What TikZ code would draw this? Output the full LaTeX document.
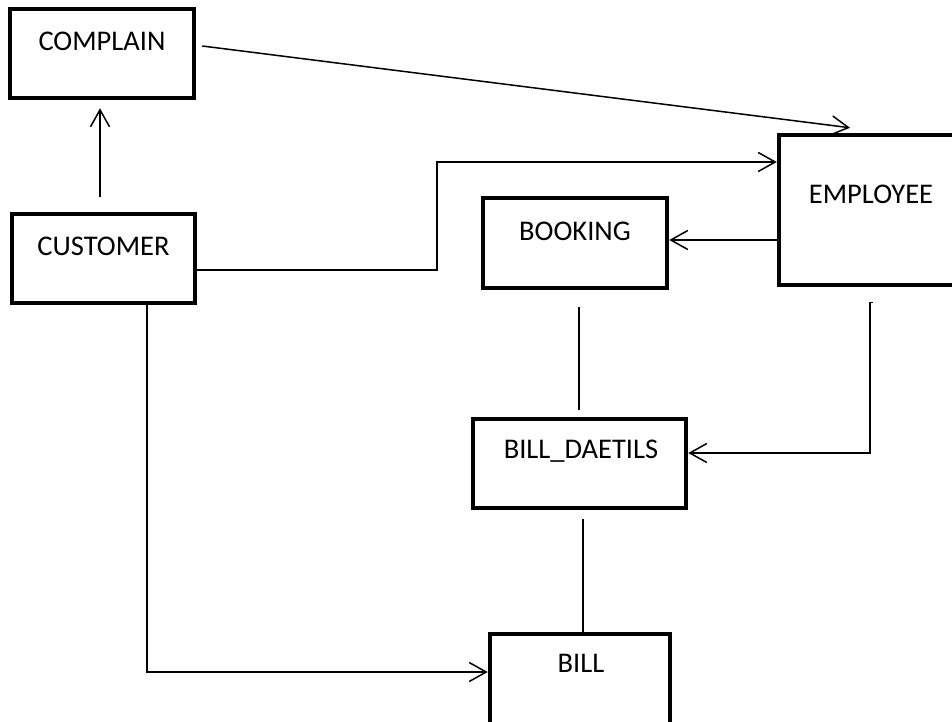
\documentclass[tikz,border=0pt]{standalone}
\usepackage{fontspec}
\setmainfont{Carlito}
\usetikzlibrary{arrows.meta,calc}

\tikzset{
  entity/.style={draw, line width=4.5pt, rectangle, inner sep=0pt},
  caption/.style={anchor=base, inner sep=0pt, font=\fontsize{28.5}{34}\selectfont},
  conn/.style={line width=1.5pt},
  arr/.style={conn, -{Straight Barb[length=17pt,width=19pt,line width=1.5pt]}}
}

\begin{document}
\begin{tikzpicture}[x=1pt,y=-1pt]
  \useasboundingbox (0,0) rectangle (952,722);
  \fill[white] (0,0) rectangle (952,722);
  \clip (0,0) rectangle (952,722);

  % entity boxes
  \node[entity, minimum width=184pt, minimum height=89pt]  (complain) at (102,53.5)   {};
  \node[entity, minimum width=183pt, minimum height=89pt]  (customer) at (103.5,258.5) {};
  \node[entity, minimum width=184pt, minimum height=150pt] (employee) at (871,210)    {};
  \node[entity, minimum width=184pt, minimum height=90pt]  (booking)  at (575,243)    {};
  \node[entity, minimum width=213pt, minimum height=89pt]  (billdet)  at (579.5,463.5) {};
  \node[entity, minimum width=180pt, minimum height=92pt]  (bill)     at (580,680)    {};

  % entity names
  \node[caption] (complainT) at (102,51)   {COMPLAIN};
  \node[caption] (customerT) at (103.5,255) {CUSTOMER};
  \node[caption] (employeeT) at (871,204)  {EMPLOYEE};
  \node[caption] (bookingT)  at (575,240)  {BOOKING};
  \node[caption] (billdetT)  at (581,458)  {BILL\_DAETILS};
  \node[caption] (billT)     at (581,672)  {BILL};

  % relationships
  \draw[arr] ([xshift=-3.5pt,yshift=15pt]customer.north) -- ([xshift=-2pt,yshift=-8pt]complain.south);
  \draw[arr] ([xshift=6pt,yshift=7.5pt]complain.east) -- ([xshift=-21pt,yshift=5pt]employee.north);

  \coordinate (jog) at (437,162);
  \draw[arr] ([yshift=-11.5pt]customer.east) -| (jog) -- ([yshift=48pt]employee.west);

  \draw[arr] ([yshift=-30pt]employee.west) -- ([yshift=3pt]booking.east);

  \draw[conn] ([xshift=4pt,yshift=-17pt]booking.south) -- ([xshift=-0.5pt,yshift=7pt]billdet.north);

  \draw[arr] ([xshift=2pt,yshift=-15pt]employee.south) -- ++(-3,0) |- ([yshift=10.5pt]billdet.east);

  \draw[conn] ([xshift=3.5pt,yshift=-9pt]billdet.south) -- ([xshift=3pt]bill.north);

  \draw[arr] ([xshift=43.5pt]customer.south) |- ([yshift=8pt]bill.west);
\end{tikzpicture}
\end{document}
